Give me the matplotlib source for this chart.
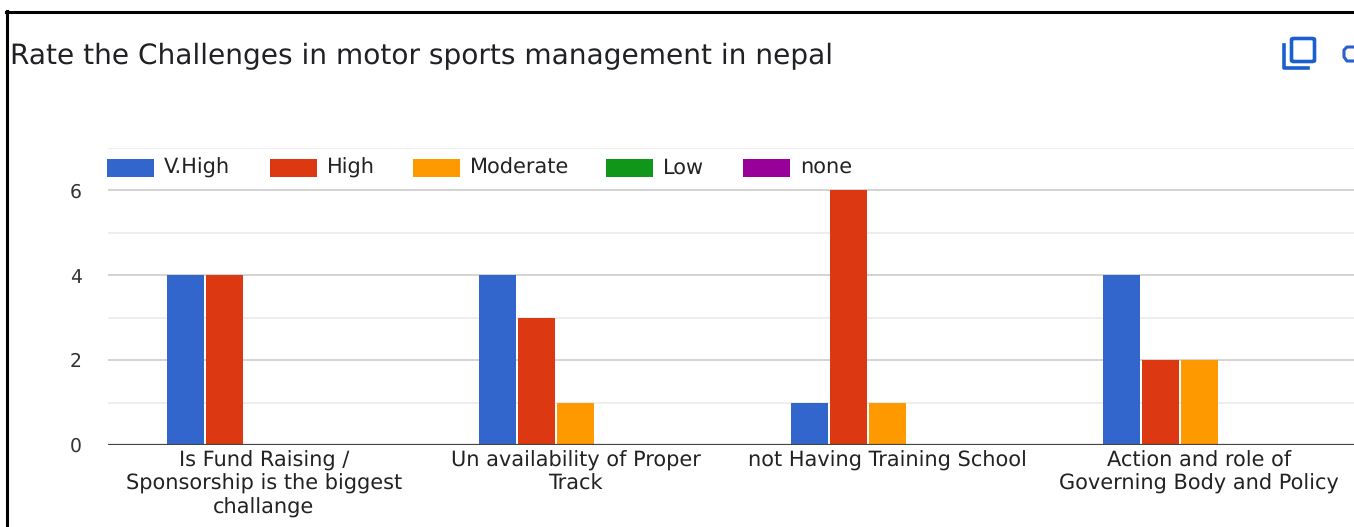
import matplotlib
matplotlib.use("Agg")
import matplotlib.pyplot as plt
from matplotlib.patches import Rectangle, FancyBboxPatch
from matplotlib.lines import Line2D
import numpy as np

plt.rcParams["text.hinting"] = "no_hinting"

categories = ["Is Fund Raising /\nSponsorship is the biggest\nchallange",
              "Un availability of Proper\nTrack",
              "not Having Training School",
              "Action and role of\nGoverning Body and Policy"]
series_names = ["V.High", "High", "Moderate", "Low", "none"]
v_high = [4, 4, 1, 4]
high = [4, 3, 6, 2]
moderate = [0, 1, 1, 2]
low = [0, 0, 0, 0]
none = [0, 0, 0, 0]
colors = ["#3366CC", "#DC3912", "#FF9900", "#109618", "#990099"]
title = "Rate the Challenges in motor sports management in nepal"
y_major = [0, 2, 4, 6]
y_minor = [1, 3, 5, 7]

W, H = 1354, 527
fig = plt.figure(figsize=(W/100, H/100), dpi=100, facecolor="white")
def fx(x): return x/W
def fy(y): return 1-y/H

L, R, T, B = 108, 1355, 148, 445
ax = fig.add_axes([fx(L), fy(B), (R-L)/W, (B-T)/H])
ax.set_xlim(-0.5, 3.5)
ax.set_ylim(0, 7)
for s in ax.spines.values():
    s.set_visible(False)

x = np.arange(len(categories))
bw = 0.125
all_series = [v_high, high, moderate, low, none]
for i, (vals, c) in enumerate(zip(all_series, colors)):
    ax.bar(x + (i-2)*bw, vals, width=bw*0.95, color=c, zorder=3, linewidth=0)

TXT = "DejaVu Sans"
ax.set_yticks(y_major)
ax.set_yticklabels([str(v) for v in y_major], fontsize=13.5, family=TXT, color="#333333")
ax.set_yticks(y_minor, minor=True)
ax.tick_params(axis="y", which="both", length=0, pad=19)
ax.grid(axis="y", which="major", color="#CCCCCC", lw=1.2, zorder=0)
ax.grid(axis="y", which="minor", color="#EBEBEB", lw=1.2, zorder=0)
ax.axhline(0, color="#444444", lw=1.6, zorder=4)
ax.set_xticks(x)
ax.set_xticklabels(categories, fontsize=15, family=TXT, color="#222222", linespacing=1.2)
ax.tick_params(axis="x", length=0, pad=4)

# legend
leg_x = [107, 270, 413, 606, 743]
for xx, name, c in zip(leg_x, series_names, colors):
    fig.add_artist(Rectangle((fx(xx), fy(177)), 47/W, 18/H, transform=fig.transFigure,
                             facecolor=c, edgecolor="none", zorder=5))
    fig.text(fx(xx+57), fy(174), name, fontsize=15, family=TXT,
             color="#222222", va="baseline", ha="left")

# title
fig.text(fx(10), fy(64), title, fontsize=20.2, family=TXT, color="#202124", va="baseline", ha="left")

# border
fig.add_artist(Line2D([fx(7), fx(7)], [0, fy(11)], color="black", lw=2.2, transform=fig.transFigure))
fig.add_artist(Line2D([fx(6), 1], [fy(11.5), fy(11.5)], color="black", lw=2.2, transform=fig.transFigure))

# copy icon
blue = "#1A5FCF"
fig.add_artist(FancyBboxPatch((fx(1291.5), fy(61.5)), 23/W, 23/H, boxstyle="round,pad=0,rounding_size=0.002",
                              transform=fig.transFigure, fill=False, edgecolor=blue, lw=2.6))
fig.add_artist(Line2D([fx(1284), fx(1284), fx(1308)], [fy(45), fy(67.5), fy(67.5)],
                      color=blue, lw=2.6, transform=fig.transFigure))
fig.add_artist(Line2D([fx(1354), fx(1347), fx(1344), fx(1344), fx(1347), fx(1354)],
                      [fy(47), fy(47), fy(50), fy(57), fy(61), fy(61)],
                      color="#2A5FCF", lw=2.2, transform=fig.transFigure))

fig.savefig("out.png", dpi=100, facecolor="white")
